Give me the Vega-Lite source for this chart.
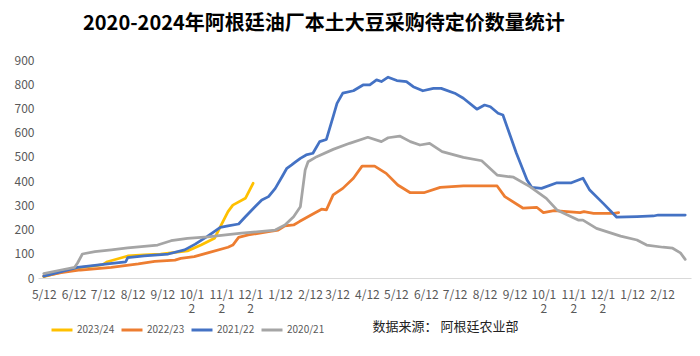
{
  "$schema": "https://vega.github.io/schema/vega-lite/v6.json",
  "autosize": {"type": "none"},
  "padding": {"left": 38, "top": 60, "right": 9, "bottom": 78},
  "width": 653,
  "height": 218,
  "background": "white",
  "config": {
    "view": {"stroke": null},
    "font": "Noto Sans CJK SC"
  },
  "title": {
    "text": "2020-2024年阿根廷油厂本土大豆采购待定价数量统计",
    "fontSize": 20,
    "fontWeight": "bold",
    "color": "#000000",
    "anchor": "start",
    "frame": "group",
    "dx": 45,
    "offset": 20
  },
  "data": {
    "values": [
      {"season": "2023/24", "day": 0, "value": 6},
      {"season": "2023/24", "day": 18, "value": 24},
      {"season": "2023/24", "day": 35, "value": 42},
      {"season": "2023/24", "day": 53, "value": 50},
      {"season": "2023/24", "day": 61, "value": 55},
      {"season": "2023/24", "day": 66, "value": 67},
      {"season": "2023/24", "day": 87, "value": 91},
      {"season": "2023/24", "day": 104, "value": 95},
      {"season": "2023/24", "day": 121, "value": 99},
      {"season": "2023/24", "day": 149, "value": 112},
      {"season": "2023/24", "day": 163, "value": 136},
      {"season": "2023/24", "day": 177, "value": 164},
      {"season": "2023/24", "day": 184, "value": 219},
      {"season": "2023/24", "day": 191, "value": 274},
      {"season": "2023/24", "day": 196, "value": 301},
      {"season": "2023/24", "day": 209, "value": 329},
      {"season": "2023/24", "day": 217, "value": 391},

      {"season": "2022/23", "day": 0, "value": 8},
      {"season": "2022/23", "day": 18, "value": 22},
      {"season": "2022/23", "day": 38, "value": 33},
      {"season": "2022/23", "day": 70, "value": 44},
      {"season": "2022/23", "day": 98, "value": 58},
      {"season": "2022/23", "day": 115, "value": 69},
      {"season": "2022/23", "day": 136, "value": 74},
      {"season": "2022/23", "day": 142, "value": 81},
      {"season": "2022/23", "day": 156, "value": 88},
      {"season": "2022/23", "day": 170, "value": 104},
      {"season": "2022/23", "day": 191, "value": 127},
      {"season": "2022/23", "day": 196, "value": 136},
      {"season": "2022/23", "day": 202, "value": 168},
      {"season": "2022/23", "day": 212, "value": 178},
      {"season": "2022/23", "day": 233, "value": 191},
      {"season": "2022/23", "day": 243, "value": 198},
      {"season": "2022/23", "day": 250, "value": 215},
      {"season": "2022/23", "day": 259, "value": 219},
      {"season": "2022/23", "day": 265, "value": 233},
      {"season": "2022/23", "day": 279, "value": 264},
      {"season": "2022/23", "day": 288, "value": 284},
      {"season": "2022/23", "day": 293, "value": 281},
      {"season": "2022/23", "day": 300, "value": 343},
      {"season": "2022/23", "day": 310, "value": 370},
      {"season": "2022/23", "day": 321, "value": 412},
      {"season": "2022/23", "day": 330, "value": 462},
      {"season": "2022/23", "day": 343, "value": 462},
      {"season": "2022/23", "day": 355, "value": 432},
      {"season": "2022/23", "day": 367, "value": 384},
      {"season": "2022/23", "day": 380, "value": 352},
      {"season": "2022/23", "day": 394, "value": 352},
      {"season": "2022/23", "day": 411, "value": 374},
      {"season": "2022/23", "day": 435, "value": 380},
      {"season": "2022/23", "day": 470, "value": 380},
      {"season": "2022/23", "day": 478, "value": 336},
      {"season": "2022/23", "day": 497, "value": 288},
      {"season": "2022/23", "day": 511, "value": 292},
      {"season": "2022/23", "day": 518, "value": 270},
      {"season": "2022/23", "day": 529, "value": 278},
      {"season": "2022/23", "day": 556, "value": 270},
      {"season": "2022/23", "day": 560, "value": 274},
      {"season": "2022/23", "day": 570, "value": 267},
      {"season": "2022/23", "day": 591, "value": 267},
      {"season": "2022/23", "day": 596, "value": 270},

      {"season": "2021/22", "day": 0, "value": 8},
      {"season": "2021/22", "day": 18, "value": 26},
      {"season": "2021/22", "day": 35, "value": 44},
      {"season": "2021/22", "day": 53, "value": 52},
      {"season": "2021/22", "day": 66, "value": 58},
      {"season": "2021/22", "day": 85, "value": 67},
      {"season": "2021/22", "day": 87, "value": 84},
      {"season": "2021/22", "day": 104, "value": 91},
      {"season": "2021/22", "day": 129, "value": 99},
      {"season": "2021/22", "day": 146, "value": 116},
      {"season": "2021/22", "day": 157, "value": 140},
      {"season": "2021/22", "day": 170, "value": 173},
      {"season": "2021/22", "day": 183, "value": 209},
      {"season": "2021/22", "day": 191, "value": 215},
      {"season": "2021/22", "day": 202, "value": 223},
      {"season": "2021/22", "day": 209, "value": 253},
      {"season": "2021/22", "day": 219, "value": 294},
      {"season": "2021/22", "day": 226, "value": 322},
      {"season": "2021/22", "day": 233, "value": 336},
      {"season": "2021/22", "day": 240, "value": 370},
      {"season": "2021/22", "day": 247, "value": 418},
      {"season": "2021/22", "day": 252, "value": 453},
      {"season": "2021/22", "day": 257, "value": 467},
      {"season": "2021/22", "day": 260, "value": 476},
      {"season": "2021/22", "day": 266, "value": 494},
      {"season": "2021/22", "day": 272, "value": 508},
      {"season": "2021/22", "day": 279, "value": 515},
      {"season": "2021/22", "day": 286, "value": 563},
      {"season": "2021/22", "day": 293, "value": 572},
      {"season": "2021/22", "day": 300, "value": 666},
      {"season": "2021/22", "day": 304, "value": 721},
      {"season": "2021/22", "day": 310, "value": 763},
      {"season": "2021/22", "day": 321, "value": 773},
      {"season": "2021/22", "day": 331, "value": 797},
      {"season": "2021/22", "day": 338, "value": 797},
      {"season": "2021/22", "day": 345, "value": 818},
      {"season": "2021/22", "day": 350, "value": 811},
      {"season": "2021/22", "day": 357, "value": 829},
      {"season": "2021/22", "day": 366, "value": 815},
      {"season": "2021/22", "day": 376, "value": 811},
      {"season": "2021/22", "day": 383, "value": 790},
      {"season": "2021/22", "day": 393, "value": 773},
      {"season": "2021/22", "day": 404, "value": 783},
      {"season": "2021/22", "day": 412, "value": 783},
      {"season": "2021/22", "day": 426, "value": 763},
      {"season": "2021/22", "day": 435, "value": 742},
      {"season": "2021/22", "day": 449, "value": 697},
      {"season": "2021/22", "day": 457, "value": 714},
      {"season": "2021/22", "day": 463, "value": 707},
      {"season": "2021/22", "day": 471, "value": 680},
      {"season": "2021/22", "day": 476, "value": 673},
      {"season": "2021/22", "day": 490, "value": 515},
      {"season": "2021/22", "day": 501, "value": 405},
      {"season": "2021/22", "day": 506, "value": 374},
      {"season": "2021/22", "day": 516, "value": 370},
      {"season": "2021/22", "day": 532, "value": 393},
      {"season": "2021/22", "day": 547, "value": 393},
      {"season": "2021/22", "day": 559, "value": 412},
      {"season": "2021/22", "day": 566, "value": 363},
      {"season": "2021/22", "day": 580, "value": 308},
      {"season": "2021/22", "day": 594, "value": 251},
      {"season": "2021/22", "day": 615, "value": 253},
      {"season": "2021/22", "day": 632, "value": 256},
      {"season": "2021/22", "day": 637, "value": 260},
      {"season": "2021/22", "day": 665, "value": 260},

      {"season": "2020/21", "day": 0, "value": 18},
      {"season": "2020/21", "day": 18, "value": 33},
      {"season": "2020/21", "day": 32, "value": 44},
      {"season": "2020/21", "day": 35, "value": 62},
      {"season": "2020/21", "day": 40, "value": 99},
      {"season": "2020/21", "day": 53, "value": 109},
      {"season": "2020/21", "day": 70, "value": 116},
      {"season": "2020/21", "day": 87, "value": 124},
      {"season": "2020/21", "day": 118, "value": 136},
      {"season": "2020/21", "day": 132, "value": 154},
      {"season": "2020/21", "day": 149, "value": 164},
      {"season": "2020/21", "day": 170, "value": 170},
      {"season": "2020/21", "day": 205, "value": 185},
      {"season": "2020/21", "day": 240, "value": 198},
      {"season": "2020/21", "day": 250, "value": 219},
      {"season": "2020/21", "day": 259, "value": 253},
      {"season": "2020/21", "day": 266, "value": 294},
      {"season": "2020/21", "day": 271, "value": 446},
      {"season": "2020/21", "day": 274, "value": 480},
      {"season": "2020/21", "day": 283, "value": 501},
      {"season": "2020/21", "day": 300, "value": 531},
      {"season": "2020/21", "day": 317, "value": 556},
      {"season": "2020/21", "day": 336, "value": 581},
      {"season": "2020/21", "day": 350, "value": 563},
      {"season": "2020/21", "day": 357, "value": 579},
      {"season": "2020/21", "day": 369, "value": 586},
      {"season": "2020/21", "day": 380, "value": 563},
      {"season": "2020/21", "day": 390, "value": 549},
      {"season": "2020/21", "day": 400, "value": 556},
      {"season": "2020/21", "day": 413, "value": 522},
      {"season": "2020/21", "day": 435, "value": 498},
      {"season": "2020/21", "day": 454, "value": 484},
      {"season": "2020/21", "day": 470, "value": 425},
      {"season": "2020/21", "day": 487, "value": 416},
      {"season": "2020/21", "day": 504, "value": 377},
      {"season": "2020/21", "day": 521, "value": 329},
      {"season": "2020/21", "day": 532, "value": 281},
      {"season": "2020/21", "day": 554, "value": 239},
      {"season": "2020/21", "day": 559, "value": 239},
      {"season": "2020/21", "day": 573, "value": 205},
      {"season": "2020/21", "day": 598, "value": 173},
      {"season": "2020/21", "day": 615, "value": 157},
      {"season": "2020/21", "day": 625, "value": 136},
      {"season": "2020/21", "day": 642, "value": 127},
      {"season": "2020/21", "day": 652, "value": 123},
      {"season": "2020/21", "day": 660, "value": 104},
      {"season": "2020/21", "day": 665, "value": 77}
    ]
  },
  "mark": {"type": "line", "strokeWidth": 2.75, "strokeJoin": "round", "strokeCap": "round"},
  "encoding": {
    "x": {
      "field": "day",
      "type": "quantitative",
      "scale": {"domain": [-6, 671], "nice": false, "zero": false},
      "axis": {
        "values": [0, 31, 61, 92, 123, 153, 184, 214, 245, 276, 304, 335, 365, 396, 426, 457, 488, 518, 549, 579, 610, 641],
        "labelExpr": "['5/12','6/12','7/12','8/12','9/12',['10/1','2'],['11/1','2'],['12/1','2'],'1/12','2/12','3/12','4/12','5/12','6/12','7/12','8/12','9/12',['10/1','2'],['11/1','2'],['12/1','2'],'1/12','2/12'][indexof([0,31,61,92,123,153,184,214,245,276,304,335,365,396,426,457,488,518,549,579,610,641], datum.value)]",
        "grid": false,
        "ticks": false,
        "domainColor": "#D9D9D9",
        "domainWidth": 1,
        "labelColor": "#595959",
        "labelFontSize": 12,
        "labelPadding": 11,
        "labelLineHeight": 14,
        "labelOverlap": false,
        "labelFlush": false,
        "title": "数据来源： 阿根廷农业部",
        "titleFontSize": 13,
        "titleFontWeight": "normal",
        "titleColor": "#222222",
        "titleAlign": "left",
        "titleAnchor": "start",
        "titleBaseline": "middle",
        "titleX": 334,
        "titleY": 48
      }
    },
    "y": {
      "field": "value",
      "type": "quantitative",
      "scale": {"domain": [0, 900], "nice": false},
      "axis": {
        "values": [0, 100, 200, 300, 400, 500, 600, 700, 800, 900],
        "grid": false,
        "ticks": false,
        "domain": false,
        "labelColor": "#595959",
        "labelFontSize": 12,
        "labelPadding": 4,
        "title": null
      }
    },
    "color": {
      "field": "season",
      "type": "nominal",
      "sort": ["2023/24", "2022/23", "2021/22", "2020/21"],
      "scale": {
        "domain": ["2023/24", "2022/23", "2021/22", "2020/21"],
        "range": ["#FFC000", "#ED7D31", "#4472C4", "#A5A5A5"]
      },
      "legend": {
        "title": null,
        "orient": "none",
        "direction": "horizontal",
        "legendX": 12,
        "legendY": 258,
        "symbolType": "stroke",
        "symbolSize": 441,
        "symbolStrokeWidth": 3,
        "labelFontSize": 10,
        "labelColor": "#595959",
        "labelOffset": 3,
        "columnPadding": 0
      }
    }
  }
}
